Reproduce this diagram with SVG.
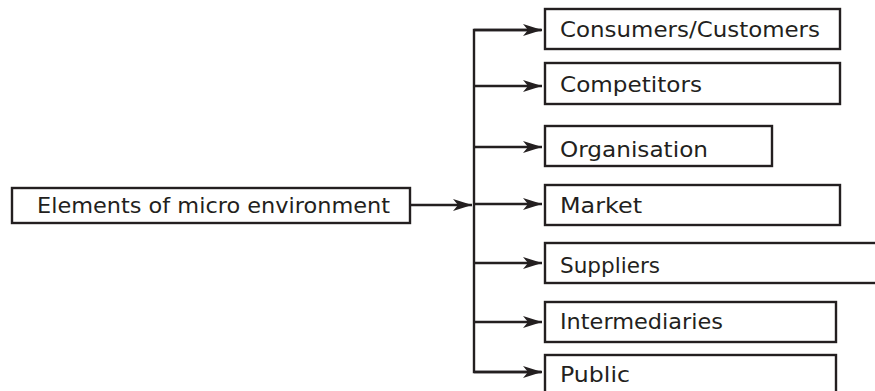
<svg xmlns="http://www.w3.org/2000/svg" width="875" height="391" viewBox="0 0 875 391">
<style>
.box{fill:#fff;stroke:#231f20;stroke-width:2.4}
.lbl{font-family:"DejaVu Sans","Liberation Sans",sans-serif;font-size:21.5px;fill:#231f20}
.con{fill:none;stroke:#231f20;stroke-width:2.4}
</style>
<defs>
<marker id="ah" markerUnits="userSpaceOnUse" markerWidth="22" markerHeight="14" refX="19" refY="7" orient="auto">
<path d="M0,1 L19,7 L0,13 L5,7 Z" fill="#231f20"/>
</marker>
</defs>
<rect width="875" height="391" fill="#fff"/>
<g id="connectors">
<line class="con" x1="411" y1="205" x2="472" y2="205" marker-end="url(#ah)"/>
<polyline class="con" points="541,30 474,30 474,372 541,372"/>
<line class="con" x1="474" y1="30" x2="542" y2="30" marker-end="url(#ah)"/>
<line class="con" x1="474" y1="86" x2="542" y2="86" marker-end="url(#ah)"/>
<line class="con" x1="474" y1="147" x2="542" y2="147" marker-end="url(#ah)"/>
<line class="con" x1="474" y1="204" x2="542" y2="204" marker-end="url(#ah)"/>
<line class="con" x1="474" y1="263" x2="542" y2="263" marker-end="url(#ah)"/>
<line class="con" x1="474" y1="322" x2="542" y2="322" marker-end="url(#ah)"/>
<line class="con" x1="474" y1="372" x2="542" y2="372" marker-end="url(#ah)"/>
</g>
<g id="main">
<rect class="box" x="12" y="188" width="398" height="35"/>
<text class="lbl" x="37" y="213" textLength="353" lengthAdjust="spacingAndGlyphs">Elements of micro environment</text>
</g>
<g id="consumers">
<rect class="box" x="545" y="9" width="295" height="40"/>
<text class="lbl" x="560" y="37" textLength="260" lengthAdjust="spacingAndGlyphs">Consumers/Customers</text>
</g>
<g id="competitors">
<rect class="box" x="545" y="63" width="295" height="41"/>
<text class="lbl" x="560" y="92" textLength="142" lengthAdjust="spacingAndGlyphs">Competitors</text>
</g>
<g id="organisation">
<rect class="box" x="545" y="126" width="227" height="40"/>
<text class="lbl" x="560" y="157" textLength="148" lengthAdjust="spacingAndGlyphs">Organisation</text>
</g>
<g id="market">
<rect class="box" x="545" y="185" width="295" height="40"/>
<text class="lbl" x="560" y="213" textLength="82" lengthAdjust="spacingAndGlyphs">Market</text>
</g>
<g id="suppliers">
<rect class="box" x="545" y="243" width="340" height="40"/>
<text class="lbl" x="560" y="273" textLength="100" lengthAdjust="spacingAndGlyphs">Suppliers</text>
</g>
<g id="intermediaries">
<rect class="box" x="545" y="302" width="291" height="40"/>
<text class="lbl" x="560" y="329" textLength="163" lengthAdjust="spacingAndGlyphs">Intermediaries</text>
</g>
<g id="public">
<rect class="box" x="545" y="355" width="291" height="50"/>
<text class="lbl" x="560" y="382" textLength="70" lengthAdjust="spacingAndGlyphs">Public</text>
</g>
</svg>
